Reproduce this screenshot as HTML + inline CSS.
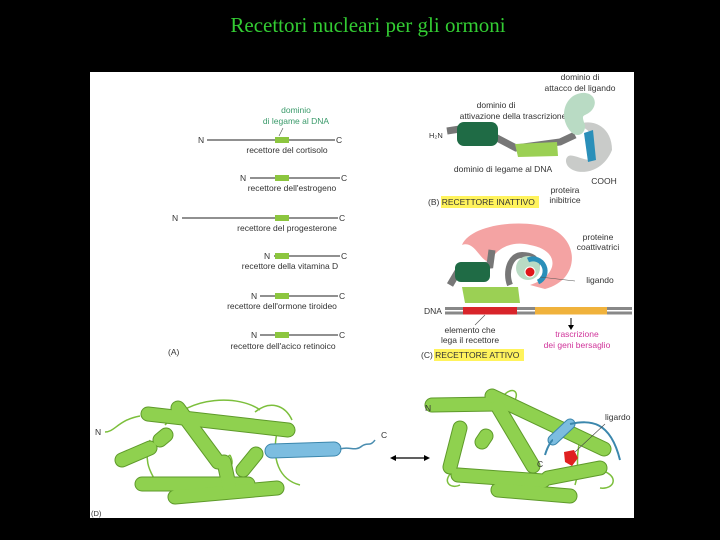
<!DOCTYPE html>
<html><head><meta charset="utf-8"><style>
html,body{margin:0;padding:0;background:#000;width:720px;height:540px;overflow:hidden}
svg{display:block}
text{font-family:"Liberation Sans",sans-serif;font-size:8.5px;fill:#333}
</style></head><body>
<svg width="720" height="540" viewBox="0 0 720 540">
<rect width="720" height="540" fill="#000"/>
<text x="368" y="32" text-anchor="middle" style="font-family:'Liberation Serif',serif;font-size:21px;fill:#33cc33">Recettori nucleari per gli ormoni</text>
<rect x="90" y="72" width="544" height="446" fill="#fff"/>

<!-- Panel A -->
<text x="296" y="113" text-anchor="middle" style="fill:#3a9a6a">dominio</text>
<text x="296" y="124" text-anchor="middle" style="fill:#3a9a6a">di legame al DNA</text>
<line x1="283" y1="128" x2="279" y2="136" stroke="#555" stroke-width="0.6"/>
<g stroke="#222" stroke-width="1">
<line x1="207" y1="140" x2="335" y2="140"/>
<line x1="250" y1="178" x2="340" y2="178"/>
<line x1="182" y1="218" x2="338" y2="218"/>
<line x1="274" y1="256" x2="340" y2="256"/>
<line x1="260" y1="296" x2="338" y2="296"/>
<line x1="260" y1="335" x2="338" y2="335"/>
</g>
<g fill="#8cc63f">
<rect x="275" y="137" width="14" height="6"/><rect x="275" y="175" width="14" height="6"/>
<rect x="275" y="215" width="14" height="6"/><rect x="275" y="253" width="14" height="6"/>
<rect x="275" y="293" width="14" height="6"/><rect x="275" y="332" width="14" height="6"/>
</g>
<text x="198" y="143">N</text><text x="336" y="143">C</text>
<text x="287" y="153" text-anchor="middle">recettore del cortisolo</text>
<text x="240" y="181">N</text><text x="341" y="181">C</text>
<text x="292" y="191" text-anchor="middle">recettore dell'estrogeno</text>
<text x="172" y="221">N</text><text x="339" y="221">C</text>
<text x="287" y="231" text-anchor="middle">recettore del progesterone</text>
<text x="264" y="259">N</text><text x="341" y="259">C</text>
<text x="290" y="269" text-anchor="middle">recettore della vitamina D</text>
<text x="251" y="299">N</text><text x="339" y="299">C</text>
<text x="282" y="309" text-anchor="middle">recettore dell'ormone tiroideo</text>
<text x="251" y="338">N</text><text x="339" y="338">C</text>
<text x="283" y="349" text-anchor="middle">recettore dell'acico retinoico</text>
<text x="168" y="355">(A)</text>

<!-- Panel B -->
<text x="580" y="80" text-anchor="middle">dominio di</text>
<text x="580" y="91" text-anchor="middle">attacco del ligando</text>
<text x="496" y="108" text-anchor="middle">dominio di</text>
<text x="513" y="119" text-anchor="middle">attivazione della trascrizione</text>
<path d="M447 131 L460 129 L497 138 L516 148 L560 142 L575 135" stroke="#777" stroke-width="7" fill="none"/>
<rect x="457" y="122" width="41" height="24" rx="7" fill="#1f6b45"/>
<path d="M515 144 L557 142 L558 156 L518 157 Z" fill="#9bd054"/>
<path d="M612 150 C612 125 590 118 578 125 C592 130 598 140 590 160 C580 160 568 150 566 160 C565 175 600 180 612 150Z" fill="#c9cbc9"/>
<path d="M575 95 C590 88 600 100 592 110 C585 118 580 112 585 125 C586 135 575 140 568 128 C560 115 565 100 575 95Z" fill="#b9dbc4"/>
<path d="M584 133 L593 130 L596 160 L588 162 Z" fill="#2a8fb9"/>
<text x="429" y="138" style="font-size:7.5px">H₂N</text>
<text x="503" y="172" text-anchor="middle">dominio di legame al DNA</text>
<text x="604" y="184" text-anchor="middle">COOH</text>
<text x="565" y="193" text-anchor="middle">proteira</text>
<text x="565" y="203" text-anchor="middle">inibitrice</text>
<rect x="441" y="196" width="98" height="12" fill="#fff35c"/>
<text x="428" y="205">(B) RECETTORE INATTIVO</text>

<!-- Panel C -->
<path d="M462 245 C470 225 520 218 550 228 C580 240 580 280 545 289 L530 285 C560 275 560 250 530 245 C510 240 495 250 490 262 C480 262 475 240 462 245Z" fill="#f4a3a3"/>
<path d="M450 285 L460 268 L490 265 L492 250" stroke="#777" stroke-width="7" fill="none"/>
<rect x="455" y="262" width="35" height="20" rx="6" fill="#1f6b45"/>
<path d="M462 287 L518 287 L520 303 L465 303Z" fill="#9bd054"/>
<path d="M510 285 C505 272 510 255 522 255 C535 255 540 262 535 270" stroke="#777" stroke-width="6" fill="none"/>
<circle cx="528" cy="268" r="12" fill="#b9dbc4"/>
<path d="M528 260 A11 11 0 0 1 538 282" stroke="#2a8fb9" stroke-width="5" fill="none"/>
<circle cx="530" cy="272" r="5" fill="#e0161a" stroke="#fff" stroke-width="1"/>
<rect x="445" y="307" width="187" height="3" fill="#888"/>
<rect x="445" y="311.5" width="187" height="3" fill="#888"/>
<rect x="463" y="307" width="54" height="7.5" fill="#d8242a"/>
<rect x="535" y="307" width="72" height="7.5" fill="#f0b23c"/>
<text x="424" y="314">DNA</text>
<line x1="571" y1="318" x2="571" y2="327" stroke="#000" stroke-width="1"/>
<path d="M568 325 L574 325 L571 330Z" fill="#000"/>
<line x1="475" y1="325" x2="485" y2="315" stroke="#555" stroke-width="0.6"/>
<text x="470" y="333" text-anchor="middle">elemento che</text>
<text x="470" y="343" text-anchor="middle">lega il recettore</text>
<text x="577" y="337" text-anchor="middle" style="fill:#d0339a">trascrizione</text>
<text x="577" y="348" text-anchor="middle" style="fill:#d0339a">dei geni bersaglio</text>
<text x="598" y="240" text-anchor="middle">proteine</text>
<text x="598" y="250" text-anchor="middle">coattivatrici</text>
<text x="600" y="283" text-anchor="middle">ligando</text>
<line x1="540" y1="277" x2="575" y2="281" stroke="#555" stroke-width="0.6"/>
<rect x="434" y="349" width="90" height="12" fill="#fff35c"/>
<text x="421" y="358">(C) RECETTORE ATTIVO</text>

<!-- Panel D -->
<g fill="none" stroke="#7cbf3c" stroke-width="1.5">
<path d="M105 432 C115 432 118 420 140 416"/>
<path d="M150 440 C140 470 160 480 155 485"/>
<path d="M165 425 C190 395 240 395 260 410"/>
<path d="M230 455 C210 470 240 475 230 455"/>
<path d="M255 412 C270 400 285 405 292 420"/>
<path d="M278 428 C270 460 280 480 300 485"/>
<path d="M440 405 C450 395 470 400 480 400"/>
<path d="M500 400 C510 385 520 390 515 400"/>
<path d="M455 470 C440 480 450 490 460 485"/>
<path d="M600 470 C620 475 615 490 600 488"/>
<path d="M580 440 C575 460 580 470 575 485"/>
</g>
<g stroke="#5e9a2a" stroke-width="15" stroke-linecap="round" fill="none">
<line x1="148" y1="414" x2="288" y2="430"/>
<line x1="178" y1="408" x2="218" y2="462"/>
<line x1="122" y1="460" x2="150" y2="448"/>
<line x1="160" y1="440" x2="166" y2="435"/>
<line x1="142" y1="484" x2="248" y2="484"/>
<line x1="175" y1="497" x2="277" y2="488"/>
<line x1="243" y1="470" x2="256" y2="454"/>
<line x1="224" y1="462" x2="230" y2="490"/>
<line x1="432" y1="405" x2="497" y2="404"/>
<line x1="492" y1="396" x2="604" y2="449"/>
<line x1="498" y1="407" x2="533" y2="466"/>
<line x1="450" y1="467" x2="460" y2="428"/>
<line x1="482" y1="442" x2="486" y2="436"/>
<line x1="458" y1="475" x2="543" y2="481"/>
<line x1="498" y1="490" x2="570" y2="496"/>
<line x1="548" y1="478" x2="600" y2="468"/>
</g>
<g stroke="#8fd14f" stroke-width="13" stroke-linecap="round" fill="none">
<line x1="148" y1="414" x2="288" y2="430"/>
<line x1="178" y1="408" x2="218" y2="462"/>
<line x1="122" y1="460" x2="150" y2="448"/>
<line x1="160" y1="440" x2="166" y2="435"/>
<line x1="142" y1="484" x2="248" y2="484"/>
<line x1="175" y1="497" x2="277" y2="488"/>
<line x1="243" y1="470" x2="256" y2="454"/>
<line x1="224" y1="462" x2="230" y2="490"/>
<line x1="432" y1="405" x2="497" y2="404"/>
<line x1="492" y1="396" x2="604" y2="449"/>
<line x1="498" y1="407" x2="533" y2="466"/>
<line x1="450" y1="467" x2="460" y2="428"/>
<line x1="482" y1="442" x2="486" y2="436"/>
<line x1="458" y1="475" x2="543" y2="481"/>
<line x1="498" y1="490" x2="570" y2="496"/>
<line x1="548" y1="478" x2="600" y2="468"/>
</g>
<line x1="272" y1="451" x2="334" y2="449" stroke="#3b87ad" stroke-width="15" stroke-linecap="round"/>
<line x1="272" y1="451" x2="334" y2="449" stroke="#7cbde0" stroke-width="13" stroke-linecap="round"/>
<path d="M340 449 C350 446 355 452 362 446 C368 442 370 447 375 440" stroke="#4a8db0" stroke-width="1.5" fill="none"/>
<line x1="553" y1="440" x2="570" y2="424" stroke="#3b87ad" stroke-width="11" stroke-linecap="round"/>
<line x1="553" y1="440" x2="570" y2="424" stroke="#7cbde0" stroke-width="9" stroke-linecap="round"/>
<path d="M545 455 C548 445 552 440 553 440 M570 424 C590 420 610 420 620 460" stroke="#3b87ad" stroke-width="2" fill="none"/>
<path d="M564 452 L574 450 L578 458 L572 466 L565 462Z" fill="#e02020"/>
<line x1="575" y1="452" x2="605" y2="424" stroke="#444" stroke-width="0.6"/>
<line x1="393" y1="458" x2="427" y2="458" stroke="#000" stroke-width="1.2"/>
<path d="M390 458 L396 455 L396 461Z M430 458 L424 455 L424 461Z" fill="#000"/>
<text x="95" y="435">N</text>
<text x="381" y="438">C</text>
<text x="425" y="411">N</text>
<text x="605" y="420">ligardo</text>
<text x="537" y="467">C</text>
<text x="91" y="516" style="font-size:7.5px">(D)</text>
</svg>
</body></html>
